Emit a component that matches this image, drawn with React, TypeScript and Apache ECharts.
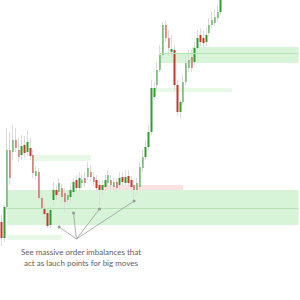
import React, { useEffect, useRef } from "react";
import * as echarts from "echarts";

// Candle values (price units, bottom of chart = 0, top = 300)
const opens = [78, 62, 93, 150, 148, 160, 150, 145, 155, 148, 152, 145, 124, 128, 102, 92, 87, 75, 100, 110, 108, 112, 107, 100, 103, 108, 120, 112, 117, 122, 123, 128, 123, 120, 115, 110, 113, 117, 120, 113, 118, 115, 123, 117, 124, 120, 115, 110, 113, 132, 143, 153, 168, 203, 215, 230, 245, 275, 262, 248, 250, 215, 188, 198, 218, 232, 243, 238, 252, 265, 262, 258, 267, 275, 277, 282, 288];
const closes = [62, 93, 150, 122, 160, 152, 143, 154, 147, 158, 144, 127, 129, 102, 92, 86, 74, 90, 110, 105, 117, 103, 98, 105, 110, 118, 112, 122, 120, 117, 132, 123, 118, 112, 110, 115, 120, 125, 115, 118, 112, 122, 118, 123, 117, 113, 110, 117, 133, 143, 153, 168, 212, 212, 230, 245, 275, 262, 252, 251, 215, 188, 198, 218, 237, 240, 232, 252, 262, 258, 257, 265, 275, 280, 283, 288, 300];
const lows = [54, 58, 90, 115, 140, 148, 138, 140, 142, 144, 140, 122, 120, 100, 88, 82, 72, 72, 95, 100, 104, 98, 88, 95, 98, 104, 108, 108, 112, 113, 120, 119, 114, 108, 95, 105, 109, 114, 111, 110, 108, 112, 114, 114, 113, 108, 100, 107, 110, 128, 140, 150, 165, 200, 210, 228, 242, 258, 245, 242, 210, 184, 182, 195, 215, 228, 228, 235, 248, 254, 252, 254, 264, 272, 274, 278, 285];
const highs = [85, 95, 172, 168, 175, 172, 162, 165, 164, 170, 162, 150, 134, 132, 105, 96, 90, 94, 118, 115, 122, 116, 112, 110, 115, 122, 125, 128, 126, 128, 138, 135, 128, 125, 120, 120, 125, 130, 125, 122, 122, 128, 128, 130, 130, 124, 120, 122, 138, 150, 160, 175, 220, 218, 238, 255, 278, 280, 270, 265, 255, 220, 200, 225, 245, 250, 250, 258, 270, 272, 270, 272, 282, 288, 290, 295, 300];

const SLOT_COUNT = 104;
const categories = Array.from({ length: SLOT_COUNT }, (_, i) => `Bar ${i + 1}`);

// Zones: [startBar, endBar, lowPrice, highPrice]
const strongDemandZones = [
  [2, 103, 75, 110],
  [66, 103, 247, 253],
  [55, 103, 237, 247],
];
const faintDemandZones = [
  [2, 21, 60, 65],
  [11, 31, 139, 145],
  [53, 80, 208, 212],
];
const supplyZones = [[34, 63, 110, 115]];
// Mid lines inside zones: [startBar, endBar, price]
const zoneLines = [
  [2, 103, 92],
  [55, 103, 247],
];
// Annotation arrows: origin and candle targets [bar, price]
const arrowOrigin = [26, 61];
const arrowTargets = [
  [20, 73],
  [25, 87],
  [34, 91],
  [46, 99],
];
const noteLines = ["See massive order imbalances that", "act as lauch points for big moves"];

export default function App() {
  const ref = useRef<HTMLDivElement>(null);
  useEffect(() => {
    if (!ref.current) return;
    const chart = echarts.init(ref.current, null, { renderer: "svg" });

    const wickData = opens.map((o, i) => [o, closes[i], lows[i], highs[i]]);
    const bodyData = opens.map((o, i) => [
      o,
      closes[i],
      Math.min(o, closes[i]),
      Math.max(o, closes[i]),
    ]);

    const area = (z: number[], color: string) => [
      { coord: [z[0], z[2]], itemStyle: { color } },
      { coord: [z[1], z[3]] },
    ];

    const markAreaData = [
      ...strongDemandZones.map((z) => area(z, "rgba(60,200,60,0.2)")),
      ...faintDemandZones.map((z) => area(z, "rgba(60,200,60,0.12)")),
      ...supplyZones.map((z) => area(z, "rgba(240,120,120,0.22)")),
    ];

    const zoneLineData = zoneLines.map((l) => [
      { coord: [l[0], l[2]], symbol: "none", lineStyle: { color: "#b3e3b3", width: 1, type: "solid" } },
      { coord: [l[1], l[2]], symbol: "none" },
    ]);
    const arrowData = arrowTargets.map((t) => [
      { coord: arrowOrigin, symbol: "none", lineStyle: { color: "#9a9a9a", width: 0.8, type: "solid" } },
      { coord: t, symbol: "circle", symbolSize: 3 },
    ]);

    chart.setOption({
      animation: false,
      backgroundColor: "#ffffff",
      grid: { left: 0, right: 0, top: 0, bottom: 0 },
      xAxis: {
        type: "category",
        data: categories,
        show: false,
        boundaryGap: true,
      },
      yAxis: {
        type: "value",
        min: 0,
        max: 300,
        show: false,
        splitLine: { show: false },
      },
      series: [
        {
          type: "candlestick",
          name: "wicks",
          data: wickData,
          barWidth: 0.6,
          silent: true,
          itemStyle: {
            color: "#dcdcdc",
            color0: "#dcdcdc",
            borderColor: "#dcdcdc",
            borderColor0: "#dcdcdc",
            borderWidth: 1,
          },
          markArea: {
            silent: true,
            data: markAreaData,
          },
          z: 2,
        },
        {
          type: "candlestick",
          name: "bodies",
          data: bodyData,
          barWidth: 2,
          silent: true,
          itemStyle: {
            color: "#2f9e2f",
            color0: "#c0392b",
            borderColor: "#2f9e2f",
            borderColor0: "#c0392b",
            borderWidth: 0,
          },
          markLine: {
            silent: true,
            symbol: ["none", "circle"],
            symbolSize: 3,
            label: { show: false },
            itemStyle: { color: "#444" },
            data: [...zoneLineData, ...arrowData],
          },
          z: 3,
        },
      ],
      graphic: [
        {
          type: "text",
          x: 81,
          y: 246,
          style: {
            text: noteLines.join("\n"),
            textAlign: "center",
            textVerticalAlign: "top",
            fontSize: 8,
            lineHeight: 11,
            fill: "#606060",
            fontFamily: "Lato",
          },
        },
      ],
    });
    return () => chart.dispose();
  }, []);
  return (
    <div
      ref={ref}
      style={{ position: "fixed", left: 0, top: 0, width: 300, height: 300 }}
    />
  );
}
